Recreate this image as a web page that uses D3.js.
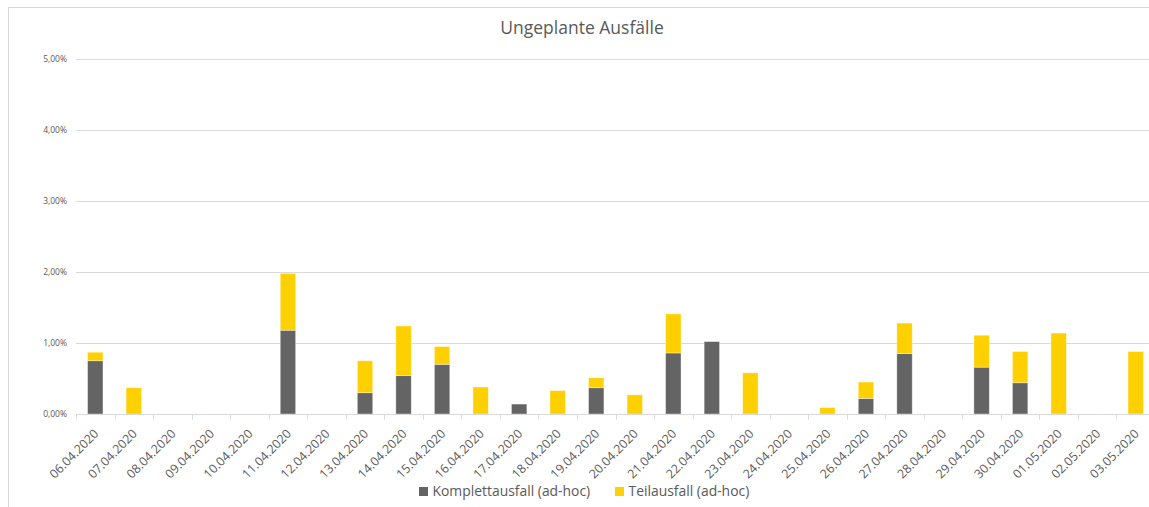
<!DOCTYPE html>
<html>
<head>
<meta charset="utf-8">
<script src="https://cdn.jsdelivr.net/npm/d3@7"></script>
<style>
  body { margin: 0; background: #fff; }
  svg { display: block; font-family: "Open Sans", sans-serif; }
</style>
</head>
<body>
<script>
// dates on the category axis
var dates = ["06.04.2020", "07.04.2020", "08.04.2020", "09.04.2020", "10.04.2020",
  "11.04.2020", "12.04.2020", "13.04.2020", "14.04.2020", "15.04.2020",
  "16.04.2020", "17.04.2020", "18.04.2020", "19.04.2020", "20.04.2020",
  "21.04.2020", "22.04.2020", "23.04.2020", "24.04.2020", "25.04.2020",
  "26.04.2020", "27.04.2020", "28.04.2020", "29.04.2020", "30.04.2020",
  "01.05.2020", "02.05.2020", "03.05.2020"];

// values in percent
var komplett = [0.75, 0, 0, 0, 0, 1.18, 0, 0.30, 0.54, 0.70,
  0, 0.14, 0, 0.37, 0, 0.86, 1.02, 0, 0, 0,
  0.22, 0.85, 0, 0.66, 0.44, 0, 0, 0];
var teil = [0.12, 0.37, 0, 0, 0, 0.80, 0, 0.45, 0.70, 0.25,
  0.38, 0, 0.33, 0.14, 0.27, 0.55, 0, 0.58, 0, 0.09,
  0.23, 0.43, 0, 0.45, 0.44, 1.14, 0, 0.88];

var yTicks = [0, 1, 2, 3, 4, 5];
var seriesNames = ["Komplettausfall (ad-hoc)", "Teilausfall (ad-hoc)"];
var colors = ["#646464", "#ffd000"];

var width = 1149, height = 507;
var margin = {left: 76, right: -6, top: 59, bottom: 93};

var svg = d3.select("body").append("svg")
  .attr("width", width)
  .attr("height", height);

// outer chart border (only left and top visible)
svg.append("rect")
  .attr("x", 8.5).attr("y", 7.5)
  .attr("width", width + 20).attr("height", height + 20)
  .attr("fill", "none")
  .attr("stroke", "#d9d9d9");

var x = d3.scaleBand()
  .domain(dates)
  .range([margin.left, width - margin.right])
  .paddingInner(0.6)
  .paddingOuter(0.3);

var xOuter = d3.scaleBand()
  .domain(dates)
  .range([margin.left, width - margin.right]);

var y = d3.scaleLinear()
  .domain([0, 5])
  .range([height - margin.bottom, margin.top]);

// gridlines
svg.append("g")
  .selectAll("line")
  .data(yTicks)
  .enter().append("line")
  .attr("x1", margin.left)
  .attr("x2", width)
  .attr("y1", function(d) { return Math.round(y(d)) + 0.5; })
  .attr("y2", function(d) { return Math.round(y(d)) + 0.5; })
  .attr("stroke", "#d9d9d9");

// y labels
svg.append("g")
  .selectAll("text")
  .data(yTicks)
  .enter().append("text")
  .attr("x", 67)
  .attr("y", function(d) { return y(d); })
  .attr("dy", "0.35em")
  .attr("text-anchor", "end")
  .attr("fill", "#595959")
  .style("font-size", "8.5px")
  .text(function(d) { return d3.format(".2f")(d).replace(".", ",") + "%"; });

// stacked data
var rows = dates.map(function(d, i) { return {date: d, k: komplett[i], t: teil[i]}; });
var stack = d3.stack().keys(["k", "t"])(rows);

svg.append("g")
  .selectAll("g")
  .data(stack)
  .enter().append("g")
  .attr("fill", function(d, i) { return colors[i]; })
  .selectAll("rect")
  .data(function(d) { return d.filter(function(p) { return p[1] - p[0] > 0; }); })
  .enter().append("rect")
  .attr("x", function(d) { return x(d.data.date); })
  .attr("width", x.bandwidth())
  .attr("y", function(d) { return y(d[1]); })
  .attr("height", function(d) { return y(d[0]) - y(d[1]); })
  .attr("stroke", "#ffffff")
  .attr("stroke-opacity", 0.5)
  .attr("stroke-width", 0.75);

// x axis line and ticks
var axisY = Math.round(y(0)) + 0.5;
svg.append("line")
  .attr("x1", margin.left).attr("x2", width)
  .attr("y1", axisY).attr("y2", axisY)
  .attr("stroke", "#d9d9d9");

svg.append("g")
  .selectAll("line")
  .data(dates)
  .enter().append("line")
  .attr("x1", function(d) { return Math.round(xOuter(d)) + 0.5; })
  .attr("x2", function(d) { return Math.round(xOuter(d)) + 0.5; })
  .attr("y1", axisY)
  .attr("y2", axisY + 5)
  .attr("stroke", "#d9d9d9");

// x labels
svg.append("g")
  .selectAll("text")
  .data(dates)
  .enter().append("text")
  .attr("transform", function(d) {
    var cx = x(d) + x.bandwidth() / 2 + 1;
    return "translate(" + cx + "," + (axisY + 17) + ") rotate(-45)";
  })
  .attr("text-anchor", "end")
  .attr("dy", "0.35em")
  .attr("fill", "#595959")
  .style("font-size", "12.4px")
  .text(function(d) { return d; });

// title
svg.append("text")
  .attr("x", 582)
  .attr("y", 34)
  .attr("text-anchor", "middle")
  .attr("fill", "#595959")
  .style("font-size", "17.5px")
  .text("Ungeplante Ausfälle");

// legend
var legendX = [419, 615];
var legend = svg.append("g")
  .selectAll("g")
  .data(seriesNames)
  .enter().append("g")
  .attr("transform", function(d, i) { return "translate(" + legendX[i] + ",496)"; });

legend.append("rect")
  .attr("x", 0).attr("y", -9)
  .attr("width", 9).attr("height", 9)
  .attr("fill", function(d, i) { return colors[i]; });

legend.append("text")
  .attr("x", 13.5)
  .attr("fill", "#595959")
  .style("font-size", "13.9px")
  .text(function(d) { return d; });
</script>
</body>
</html>
